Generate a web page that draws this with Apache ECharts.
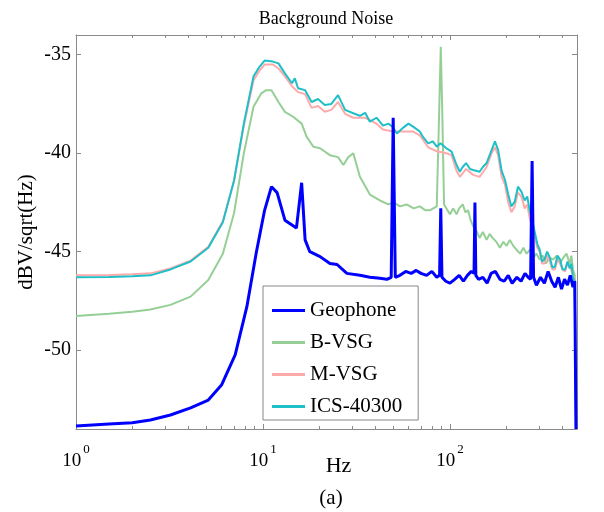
<!DOCTYPE html>
<html><head><meta charset="utf-8">
<script src="https://cdn.jsdelivr.net/npm/echarts@6/dist/echarts.min.js"></script>
<style>html,body{margin:0;padding:0;background:#fff}#c{width:604px;height:512px}</style>
</head><body><div id="c"></div>
<script>
// ---- data (frequency in Hz, level in dBV/sqrt(Hz)) ----
const seriesNames = ['Geophone', 'B-VSG', 'M-VSG', 'ICS-40300'];

const geoF = [1,1.5,2,2.5,3.2,4.1,5.1,6,7.1,8.2,9.2,10.2,11.1,11.9,13.1,15.1,16.1,16.8,17.8,20.2,22.8,24.9,28.1,33,37.3,42.2,46,48.5,49.7,51,54,58,62,66,70,75,80,85,88,89.3,90.6,95,100,106,112,118,124,130,134.5,136,137.5,142,150,158,166,175,185,195,205,215,228,240,252,262,270,275,280,290,305,320,335,350,365,380,395,410,425,440,455,465,472];
const geoV = [-53.85,-53.75,-53.68,-53.54,-53.29,-52.93,-52.53,-51.77,-50.24,-47.79,-45.07,-42.9,-41.7,-42.0,-43.4,-43.8,-41.5,-44.4,-45.0,-45.25,-45.6,-45.65,-46.1,-46.2,-46.3,-46.35,-46.4,-46.3,-38.2,-46.3,-46.2,-46.0,-46.1,-45.95,-46.1,-46.2,-46.0,-46.3,-46.2,-42.8,-46.3,-46.5,-46.6,-46.4,-46.2,-46.5,-46.2,-46.0,-46.1,-42.5,-46.2,-46.4,-46.3,-46.6,-46.1,-46.0,-46.4,-46.5,-46.2,-46.6,-46.3,-46.5,-46.1,-46.3,-46.4,-40.4,-46.3,-46.7,-46.3,-46.6,-46.0,-46.5,-46.8,-46.3,-46.9,-46.4,-46.7,-46.2,-46.8,-46.5,-54];

const bvsgF = [1,1.5,2,2.5,3.2,4.1,5.1,6.1,7,7.9,8.9,9.8,10.4,11.1,12.1,13.1,14.5,16.1,17.1,18.6,20.2,22.8,25.2,26.9,28.6,30.4,33,37.3,42.2,46.8,50,54,58.6,64,69,74,78,85,87.5,89.3,91,93,100,104,108.5,112,117,121,125,129,133,138,144,150,157,163,169,177,185,193,201,209,218,227,237,247,257,268,279,290,302,314,326,340,356,372,388,404,420,430,437,446,455,465,472];
const bvsgV = [-48.26,-48.15,-48.05,-47.93,-47.7,-47.28,-46.44,-45.1,-43.05,-40.0,-37.64,-36.96,-36.8,-36.8,-37.4,-37.9,-38.15,-38.5,-39.16,-39.67,-39.75,-40.1,-40.2,-40.6,-40.2,-40.0,-41.2,-42.1,-42.4,-42.6,-42.5,-42.7,-42.6,-42.8,-42.7,-42.9,-42.9,-42.7,-38.0,-34.6,-38.0,-42.6,-43.1,-42.8,-43.1,-42.8,-42.6,-43.0,-42.9,-43.4,-43.7,-43.9,-44.3,-44.0,-44.4,-44.1,-44.3,-44.5,-44.8,-44.5,-44.7,-44.4,-44.7,-44.9,-45.1,-44.8,-45.1,-44.9,-45.3,-45.1,-45.4,-45.2,-45.6,-45.3,-45.4,-45.2,-45.6,-45.3,-45.1,-45.4,-45.6,-45.2,-45.9,-46.2,-54];

const mvsgF = [1,1.5,2,2.5,3.2,4.1,5.1,6.1,7,7.9,8.9,9.6,10.2,11.3,12.1,13.1,14.3,15.4,16.8,18.2,19.7,21.4,23.2,25.2,27.5,30.4,35.2,40.5,43.8,49.7,56.3,63.5,69,76.5,85,95.7,102,108.5,112.9,122,133,144,157,167,174,181,189,197,205,213,222,231,241,251,259,267,275,284,293,302,311,320,331,342,353,364,376,388,400,413,425,437,446,455,465,472];
const mvsgV = [-46.2,-46.18,-46.15,-46.1,-45.85,-45.45,-44.75,-43.45,-41.4,-38.6,-36.3,-35.8,-35.5,-35.5,-35.7,-36.1,-36.6,-36.9,-37.0,-37.7,-37.6,-37.9,-37.8,-37.4,-38.0,-38.2,-38.2,-38.5,-38.8,-38.9,-38.9,-38.9,-39.1,-39.7,-39.9,-40.0,-40.1,-40.9,-41.2,-40.8,-41.1,-41.2,-40.7,-40.0,-39.7,-40.1,-41.2,-41.6,-42.5,-43.0,-42.7,-42.0,-42.2,-42.8,-42.6,-43.3,-43.7,-44.2,-44.8,-45.0,-45.6,-45.6,-45.2,-45.5,-45.9,-45.9,-45.4,-45.6,-45.9,-46.0,-45.6,-45.7,-45.6,-46.2,-46.4,-54];

const icsF = [1,1.5,2,2.5,3.2,4.1,5.1,6.1,7,7.9,8.9,9.6,10.2,11.3,12.1,13.1,14.3,14.8,15.4,16.8,18.2,19.7,21.4,23.2,25.2,27.5,30.4,33,35.2,37.3,40.5,43.8,47,49.7,52,56.3,60,63.5,69,72,76.5,81,85,89,95.7,102,108.5,112.9,117,122,128,133,144,150,157,167,174,181,189,197,205,213,222,231,241,251,259,267,275,284,293,302,311,320,331,342,353,364,376,388,400,413,425,437,446,455,465,472];
const icsV = [-46.3,-46.28,-46.25,-46.2,-45.9,-45.5,-44.8,-43.5,-41.4,-38.5,-36.1,-35.6,-35.3,-35.35,-35.44,-35.95,-36.45,-36.2,-36.7,-36.8,-37.4,-37.25,-37.55,-37.5,-37.05,-37.8,-37.97,-38.1,-37.95,-38.4,-38.2,-38.6,-38.5,-38.7,-39.0,-38.7,-38.5,-38.65,-38.9,-39.2,-39.5,-39.4,-39.67,-39.5,-39.75,-39.92,-40.6,-40.94,-40.7,-40.5,-40.8,-40.85,-40.94,-40.7,-40.5,-39.84,-39.4,-39.84,-40.9,-41.36,-42.1,-42.7,-42.46,-41.7,-41.95,-42.4,-42.2,-42.9,-43.4,-44.0,-44.6,-44.9,-45.5,-45.4,-45.0,-45.3,-45.8,-45.76,-45.2,-45.4,-45.9,-45.9,-45.5,-45.85,-45.6,-46.3,-46.5,-54];

const xMajorTicks = [1, 10, 100];
const xMinorTicks = [2,3,4,5,6,7,8,9,20,30,40,50,60,70,80,90,200,300,400];
const yTicks = [-50, -45, -40, -35];
const X_MIN = 1, X_MAX = 478, Y_MIN = -54, Y_MAX = -34;

// ---- chart ----
const FONT = '"Liberation Serif", "Times New Roman", serif';
const AX = '#8a8a8a';
const zip = (f, v) => f.map((x, i) => [x, v[i]]);
const lg = v => Math.log10(v);

const logAxisBase = (pos) => ({
  type: 'log', logBase: 10, min: X_MIN, max: X_MAX, position: pos, gridIndex: 0,
  axisLine: { show: true, onZero: false, lineStyle: { color: AX, width: 1 } },
  axisTick: { show: false },
  splitLine: { show: false }, minorTick: { show: false }, minorSplitLine: { show: false },
  axisLabel: { show: false }
});
const tickAxis = (pos, vals, len) => ({
  type: 'value', min: 0, max: lg(X_MAX), position: pos, gridIndex: 0,
  axisLine: { show: true, onZero: false, lineStyle: { color: AX, opacity: 0 } },
  splitLine: { show: false }, axisLabel: { show: false },
  axisTick: { show: true, inside: true, length: len, customValues: vals.map(lg), lineStyle: { color: AX, opacity: 1 } }
});

const xBottom = logAxisBase('bottom');
xBottom.axisLabel = {
  show: true, margin: 14, showMaxLabel: false, color: '#000',
  formatter: v => { const e = Math.log10(v); if (Math.abs(e - Math.round(e)) > 1e-6) return ''; return '{b|10}{s|' + Math.round(e) + '}'; },
  rich: {
    b: { fontFamily: FONT, fontSize: 19, color: '#000', padding: [9, 0, 0, 0] },
    s: { fontFamily: FONT, fontSize: 13, color: '#000', verticalAlign: 'top', padding: [0, 0, 0, 2] }
  }
};
xBottom.name = 'Hz';
xBottom.nameLocation = 'middle';
xBottom.nameGap = 26;
xBottom.nameMoveOverlap = false;
xBottom.nameTextStyle = { fontFamily: FONT, fontSize: 22, color: '#000', padding: [0, 0, 0, 24] };

const option = {
  animation: false,
  backgroundColor: '#fff',
  grid: { left: 76, right: 27, top: 35, bottom: 83, containLabel: false, outerBoundsMode: 'none' },
  graphic: [
    { type: 'text', x: 326, y: 19, style: { text: 'Background Noise', align: 'center', verticalAlign: 'middle', font: '18px ' + FONT, fill: '#000' } },
    { type: 'text', x: 331, y: 498, style: { text: '(a)', align: 'center', verticalAlign: 'middle', font: '21px ' + FONT, fill: '#000' } }
  ],
  xAxis: [
    xBottom,
    logAxisBase('top'),
    tickAxis('bottom', xMajorTicks, 5),
    tickAxis('bottom', xMinorTicks, 3),
    tickAxis('top', xMajorTicks, 5),
    tickAxis('top', xMinorTicks, 3)
  ],
  yAxis: [
    { type: 'value', min: Y_MIN, max: Y_MAX, position: 'left',
      axisLine: { show: true, onZero: false, lineStyle: { color: AX } },
      axisTick: { show: true, inside: true, length: 5, customValues: yTicks, lineStyle: { color: AX } },
      axisLabel: { show: true, customValues: yTicks, margin: 5, color: '#000', fontFamily: FONT, fontSize: 20 },
      splitLine: { show: false },
      name: 'dBV/sqrt(Hz)', nameLocation: 'middle', nameGap: 39, nameMoveOverlap: false,
      nameTextStyle: { fontFamily: FONT, fontSize: 21, color: '#000' } },
    { type: 'value', min: Y_MIN, max: Y_MAX, position: 'right',
      axisLine: { show: true, onZero: false, lineStyle: { color: AX } },
      axisTick: { show: true, inside: true, length: 5, customValues: yTicks, lineStyle: { color: AX } },
      axisLabel: { show: false }, splitLine: { show: false } }
  ],
  legend: {
    show: true, orient: 'vertical', left: 263, top: 286,
    backgroundColor: '#fff', borderColor: '#888', borderWidth: 1,
    padding: [14, 16, 3, 9], itemGap: 11, itemWidth: 33, itemHeight: 3,
    selectedMode: false, icon: 'rect',
    textStyle: { fontFamily: FONT, fontSize: 21, color: '#000' },
    data: seriesNames
  },
  series: [
    { name: seriesNames[1], type: 'line', xAxisIndex: 0, yAxisIndex: 0, data: zip(bvsgF, bvsgV), showSymbol: false, symbol: 'none', z: 2,
      color: '#96cf96', lineStyle: { color: '#96cf96', width: 2 } },
    { name: seriesNames[2], type: 'line', xAxisIndex: 0, yAxisIndex: 0, data: zip(mvsgF, mvsgV), showSymbol: false, symbol: 'none', z: 3,
      color: '#ffaaaa', lineStyle: { color: '#ffaaaa', width: 2 } },
    { name: seriesNames[3], type: 'line', xAxisIndex: 0, yAxisIndex: 0, data: zip(icsF, icsV), showSymbol: false, symbol: 'none', z: 4,
      color: '#1fbfc8', lineStyle: { color: '#1fbfc8', width: 2 } },
    { name: seriesNames[0], type: 'line', xAxisIndex: 0, yAxisIndex: 0, data: zip(geoF, geoV), showSymbol: false, symbol: 'none', z: 5,
      color: '#0000ff', lineStyle: { color: '#0000ff', width: 3 } }
  ]
};
const chart = echarts.init(document.getElementById('c'), null, { renderer: 'canvas' });
chart.setOption(option);
</script></body></html>
